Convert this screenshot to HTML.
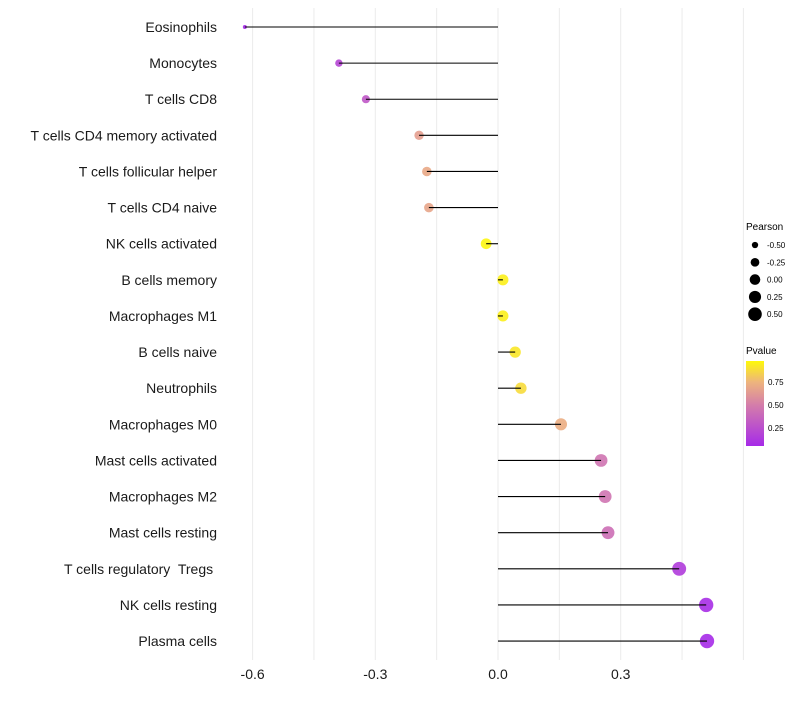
<!DOCTYPE html>
<html><head><meta charset="utf-8"><style>
body{margin:0;background:#fff;font-family:"Liberation Sans",sans-serif}
text{white-space:pre}
</style></head><body>
<svg id="chart" width="800" height="700" xmlns="http://www.w3.org/2000/svg" font-family="Liberation Sans, sans-serif">
<g id="grid"></g><g id="marks"></g><g id="labels"></g><g id="legend"></g>
</svg>
<script>
const categories=["Eosinophils","Monocytes","T cells CD8","T cells CD4 memory activated","T cells follicular helper","T cells CD4 naive","NK cells activated","B cells memory","Macrophages M1","B cells naive","Neutrophils","Macrophages M0","Mast cells activated","Macrophages M2","Mast cells resting","T cells regulatory  Tregs ","NK cells resting","Plasma cells"];
const pearson=[-0.619,-0.389,-0.323,-0.193,-0.174,-0.169,-0.029,0.012,0.012,0.042,0.056,0.154,0.252,0.262,0.269,0.443,0.509,0.511];
const pvalues=[0.05,0.2,0.3,0.65,0.7,0.68,0.97,0.95,0.95,0.92,0.88,0.72,0.45,0.45,0.42,0.15,0.07,0.06];
const xTicks=[-0.6,-0.3,0.0,0.3];
const xTickLabels=["-0.6","-0.3","0.0","0.3"];
const sizeLegend=[-0.5,-0.25,0,0.25,0.5];
const sizeLegendLabels=["-0.50","-0.25","0.00","0.25","0.50"];
const colorTicks=[0.75,0.5,0.25];
const colorTickLabels=["0.75","0.50","0.25"];

const NS="http://www.w3.org/2000/svg";
const x=v=>498+v*409;
const y=i=>27+i*36.12;
const r=v=>Math.sqrt(Math.max(4,30+42*v));
const rl=v=>Math.sqrt(Math.max(4,28+36*v));
const stops=[[0,[160,32,240]],[0.5,[212,125,170]],[0.75,[238,180,125]],[1,[255,255,0]]];
function col(p){for(let k=1;k<stops.length;k++){if(p<=stops[k][0]){const a=stops[k-1],b=stops[k];const t=(p-a[0])/(b[0]-a[0]);return "rgb("+a[1].map((c,j)=>Math.round(c+(b[1][j]-c)*t)).join(",")+")";}}return "rgb(255,255,0)";}
function mk(tag,attrs,parent,text){const e=document.createElementNS(NS,tag);for(const k in attrs)e.setAttribute(k,attrs[k]);if(text!==undefined)e.textContent=text;document.getElementById(parent).appendChild(e);return e;}

for(let v=-0.6;v<=0.61;v+=0.15){const g=mk("line",{x1:x(v),x2:x(v),y1:8,y2:660,stroke:"#ebebeb","stroke-width":1},"grid");

}
xTicks.forEach((t,i)=>{const e=mk("text",{x:x(t),y:679,"text-anchor":"middle","font-size":14,fill:"#1a1a1a"},"labels",xTickLabels[i]);

});
categories.forEach((c,i)=>{
 const d=mk("circle",{cx:x(pearson[i]),cy:y(i),r:r(pearson[i]),fill:col(pvalues[i]),"fill-opacity":0.9},"marks");
 
 
 const l=mk("line",{x1:x(0),x2:x(pearson[i]),y1:y(i),y2:y(i),stroke:"#000","stroke-width":1.1},"marks");
 
 
 const t=mk("text",{x:217,y:y(i)+5,"text-anchor":"end","font-size":14,fill:"#1a1a1a"},"labels",c);
 
 
});
const lt=mk("text",{x:746,y:230,"font-size":10,fill:"#000"},"legend","Pearson");


sizeLegend.forEach((v,i)=>{const cy=245+i*17.3;
 const c=mk("circle",{cx:755,cy:cy,r:rl(v),fill:"#000"},"legend");
 
 
 const t=mk("text",{x:767,y:cy+3,"font-size":8,fill:"#000"},"legend",sizeLegendLabels[i]);
 
 });
const ct=mk("text",{x:746,y:354,"font-size":10,fill:"#000"},"legend","Pvalue");


const defs=mk("defs",{},"legend");
const gr=document.createElementNS(NS,"linearGradient");gr.setAttribute("id","pg");gr.setAttribute("x1","0");gr.setAttribute("y1","1");gr.setAttribute("x2","0");gr.setAttribute("y2","0");defs.appendChild(gr);
[0.054,0.25,0.5,0.75,0.98].forEach(p=>{const s=document.createElementNS(NS,"stop");s.setAttribute("offset",(p-0.054)/(0.98-0.054));s.setAttribute("stop-color",col(p));gr.appendChild(s);});
const bar=mk("rect",{x:746,y:361,width:18,height:85,fill:"url(#pg)"},"legend");


const cy0=v=>446-(v-0.054)/(0.98-0.054)*85;
colorTicks.forEach((v,i)=>{
 const t=mk("text",{x:768,y:cy0(v)+3,"font-size":8,fill:"#000"},"legend",colorTickLabels[i]);
 
 });
</script>
</body></html>
